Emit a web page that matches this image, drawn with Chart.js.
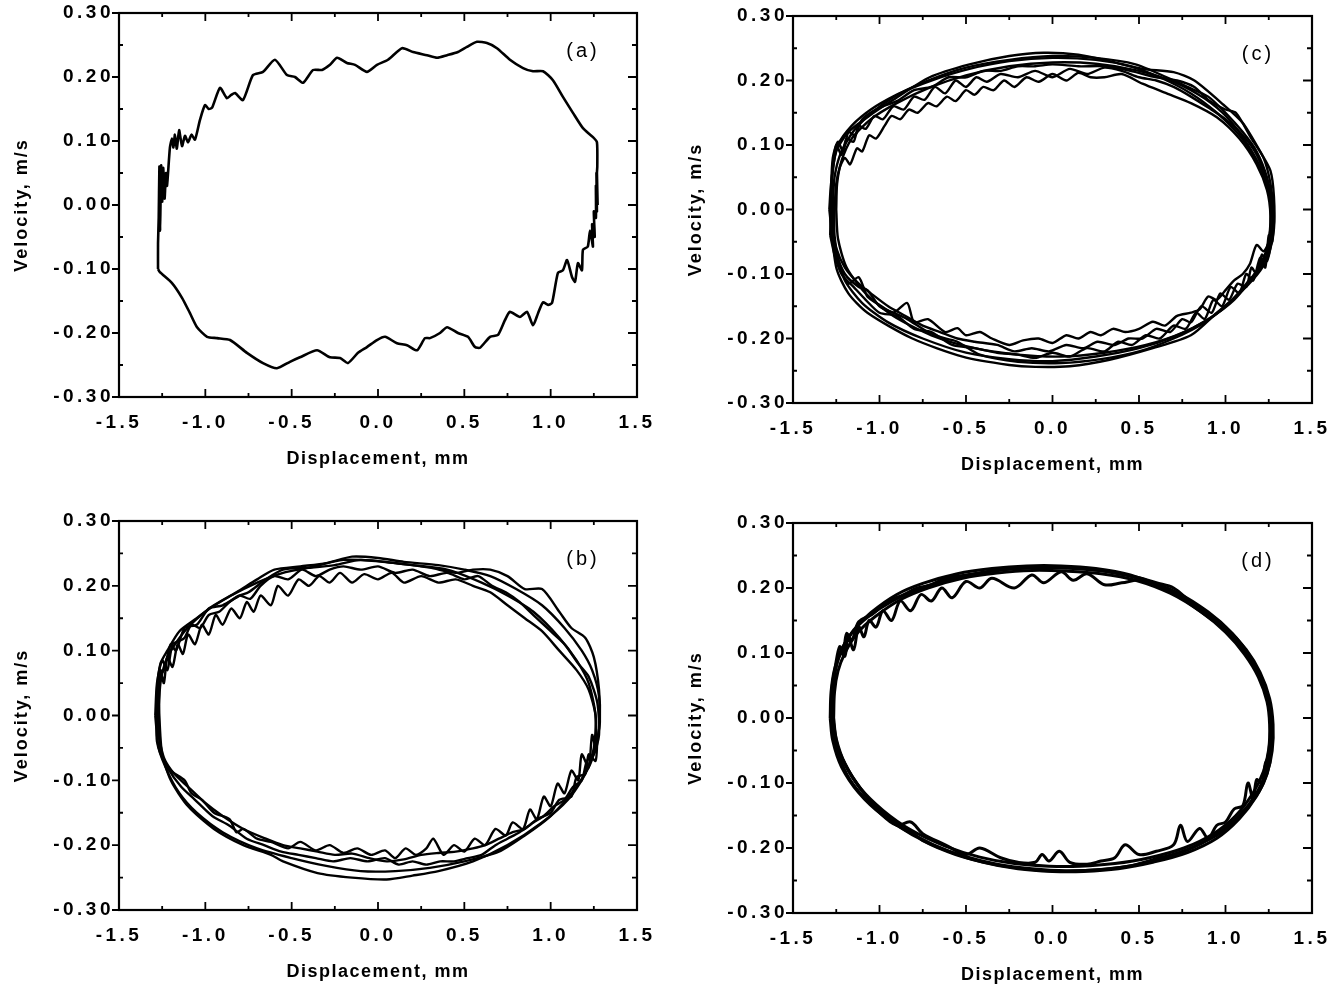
<!DOCTYPE html>
<html>
<head>
<meta charset="utf-8">
<script src="https://cdn.jsdelivr.net/npm/chart.js@4.4.1/dist/chart.umd.min.js"></script>
<style>
  body { margin: 0; background: #fff; }
  #wrap { position: relative; width: 1344px; height: 988px; overflow: hidden; background: #fff; }
  canvas { position: absolute; }
</style>
</head>
<body>
<div id="wrap">
  <canvas id="pa" width="672" height="494" style="left:0;top:0"></canvas>
  <canvas id="pc" width="672" height="494" style="left:672px;top:0"></canvas>
  <canvas id="pb" width="672" height="494" style="left:0;top:494px"></canvas>
  <canvas id="pd" width="672" height="494" style="left:672px;top:494px"></canvas>
</div>
<script>
// Axis ticks
const xTicks = [-1.5, -1.0, -0.5, 0.0, 0.5, 1.0, 1.5];
const yTicks = [-0.30, -0.20, -0.10, 0.00, 0.10, 0.20, 0.30];
const xMinor = [-1.25, -0.75, -0.25, 0.25, 0.75, 1.25];
const yMinor = [-0.25, -0.15, -0.05, 0.05, 0.15, 0.25];
const xTitle = 'Displacement, mm';
const yTitle = 'Velocity, m/s';

// (a) single cycle, [displacement, velocity]
const loopA = [
  [-1.274,-0.100],[-1.274,-0.060],[-1.270,-0.020],[-1.266,0.060],[-1.262,-0.040],[-1.256,0.062],[-1.250,0.005],
  [-1.244,0.058],[-1.236,0.010],[-1.228,0.050],[-1.222,0.030],[-1.205,0.090],[-1.193,0.104],[-1.185,0.090],
  [-1.176,0.110],[-1.165,0.088],[-1.152,0.117],[-1.135,0.092],[-1.118,0.108],[-1.100,0.098],[-1.080,0.110],
  [-1.060,0.102],[-1.031,0.133],[-1.002,0.156],[-0.980,0.150],[-0.961,0.152],[-0.915,0.183],[-0.875,0.167],
  [-0.850,0.172],[-0.828,0.175],[-0.782,0.164],[-0.724,0.203],[-0.666,0.208],[-0.597,0.227],[-0.527,0.203],
  [-0.481,0.200],[-0.434,0.191],[-0.376,0.211],[-0.324,0.211],[-0.278,0.219],[-0.237,0.230],[-0.180,0.222],
  [-0.133,0.219],[-0.064,0.208],[-0.006,0.219],[0.058,0.227],[0.139,0.245],[0.203,0.239],[0.284,0.234],
  [0.342,0.230],[0.400,0.234],[0.463,0.239],[0.515,0.247],[0.573,0.255],[0.631,0.253],[0.689,0.245],
  [0.764,0.227],[0.840,0.214],[0.898,0.209],[0.956,0.209],[1.013,0.195],[1.071,0.169],[1.129,0.144],
  [1.187,0.120],[1.245,0.106],[1.268,0.098],[1.270,0.060],[1.268,0.050],[1.272,0.000],[1.265,0.050],
  [1.268,-0.010],[1.262,0.030],[1.262,-0.020],[1.250,-0.010],[1.255,-0.050],[1.240,-0.030],[1.245,-0.065],
  [1.228,-0.040],[1.215,-0.065],[1.187,-0.070],[1.181,-0.102],[1.158,-0.091],[1.141,-0.120],[1.124,-0.113],
  [1.095,-0.086],[1.071,-0.102],[1.042,-0.106],[1.008,-0.153],[0.985,-0.156],[0.956,-0.152],[0.927,-0.169],
  [0.898,-0.188],[0.863,-0.167],[0.822,-0.175],[0.764,-0.167],[0.735,-0.180],[0.695,-0.203],[0.649,-0.206],
  [0.591,-0.223],[0.562,-0.222],[0.521,-0.206],[0.463,-0.200],[0.400,-0.191],[0.359,-0.200],[0.301,-0.208],
  [0.272,-0.208],[0.226,-0.227],[0.168,-0.219],[0.110,-0.216],[0.041,-0.206],[-0.006,-0.211],[-0.064,-0.222],
  [-0.116,-0.231],[-0.174,-0.247],[-0.220,-0.239],[-0.278,-0.238],[-0.353,-0.227],[-0.452,-0.238],[-0.510,-0.245],
  [-0.585,-0.255],[-0.666,-0.247],[-0.759,-0.231],[-0.857,-0.211],[-0.932,-0.208],[-0.990,-0.206],[-1.048,-0.191],
  [-1.089,-0.169],[-1.135,-0.145],[-1.193,-0.122],[-1.263,-0.105],[-1.274,-0.100]
];

// (b) several cycles
const loopB1 = [
  [-1.28,0.0],[-1.28,0.04],[-1.26,0.08],[-1.22,0.10],[-1.15,0.13],[-1.05,0.15],[-0.95,0.17],[-0.82,0.19],[-0.70,0.21],
  [-0.60,0.225],[-0.45,0.23],[-0.30,0.235],[-0.15,0.245],[0.0,0.243],[0.15,0.237],[0.35,0.232],[0.50,0.225],[0.65,0.215],
  [0.80,0.195],[0.95,0.17],[1.08,0.135],[1.18,0.10],[1.24,0.07],[1.28,0.03],[1.28,-0.02],[1.26,-0.05],[1.22,-0.08],
  [1.12,-0.12],[1.0,-0.155],[0.85,-0.185],[0.70,-0.21],[0.50,-0.225],[0.30,-0.235],[0.10,-0.24],[-0.10,-0.24],
  [-0.30,-0.232],[-0.50,-0.22],[-0.70,-0.205],[-0.90,-0.18],[-1.05,-0.15],[-1.15,-0.12],[-1.23,-0.08],[-1.28,-0.04],[-1.28,0.0]
];
const loopB2 = [
  [-1.27,0.0],[-1.26,0.05],[-1.22,0.09],[-1.12,0.13],[-1.0,0.16],[-0.85,0.185],[-0.70,0.205],[-0.55,0.22],[-0.40,0.228],
  [-0.20,0.24],[0.0,0.238],[0.20,0.232],[0.40,0.225],[0.60,0.205],[0.75,0.185],[0.90,0.16],[1.05,0.12],[1.15,0.085],
  [1.22,0.05],[1.26,0.0],[1.25,-0.05],[1.20,-0.09],[1.10,-0.13],[0.95,-0.165],[0.75,-0.2],[0.55,-0.225],[0.35,-0.24],
  [0.20,-0.247],[0.05,-0.253],[-0.15,-0.25],[-0.35,-0.243],[-0.55,-0.225],[-0.62,-0.215],[-0.78,-0.2],[-0.95,-0.175],
  [-1.10,-0.14],[-1.20,-0.10],[-1.26,-0.05],[-1.27,0.0]
];
const loopB3 = [
  [-1.28,-0.02],[-1.27,0.06],[-1.24,0.07],[-1.20,0.11],[-1.17,0.10],[-1.12,0.135],[-1.05,0.14],[-0.98,0.165],[-0.90,0.17],
  [-0.80,0.185],[-0.75,0.19],[-0.65,0.21],[-0.55,0.225],[-0.40,0.228],[-0.25,0.232],[-0.10,0.24],[0.10,0.235],[0.30,0.228],
  [0.45,0.22],[0.55,0.225],[0.65,0.225],[0.75,0.215],[0.85,0.195],[0.95,0.195],[1.05,0.16],[1.12,0.135],[1.20,0.12],
  [1.25,0.09],[1.28,0.04],[1.285,-0.01],[1.27,-0.04],[1.26,-0.07],[1.22,-0.06],[1.20,-0.09],[1.15,-0.095],[1.12,-0.125],
  [1.05,-0.13],[1.00,-0.15],[0.92,-0.16],[0.85,-0.175],[0.78,-0.18],[0.70,-0.19],[0.62,-0.2],[0.55,-0.205],[0.45,-0.21],
  [0.35,-0.212],[0.25,-0.215],[0.15,-0.222],[0.05,-0.225],[-0.05,-0.22],[-0.15,-0.213],[-0.25,-0.215],[-0.35,-0.21],
  [-0.45,-0.205],[-0.55,-0.2],[-0.65,-0.19],[-0.78,-0.175],[-0.90,-0.155],[-1.00,-0.135],[-1.10,-0.11],[-1.18,-0.09],
  [-1.24,-0.065],[-1.28,-0.02]
];
const loopB4 = [
  [-1.27,0.02],[-1.26,0.07],[-1.24,0.05],[-1.22,0.09],[-1.19,0.075],[-1.16,0.11],[-1.13,0.095],[-1.10,0.125],[-1.06,0.11],
  [-1.02,0.14],[-0.98,0.125],[-0.94,0.155],[-0.90,0.14],[-0.85,0.165],[-0.80,0.15],[-0.76,0.175],[-0.72,0.16],[-0.68,0.185],
  [-0.62,0.17],[-0.58,0.2],[-0.52,0.185],[-0.46,0.21],[-0.40,0.2],[-0.34,0.215],[-0.28,0.205],[-0.22,0.22],[-0.15,0.205],
  [-0.08,0.218],[0.0,0.21],[0.08,0.22],[0.15,0.205],[0.25,0.215],[0.35,0.205],[0.45,0.21],[0.55,0.2],[0.65,0.19],
  [0.75,0.17],[0.85,0.15],[0.95,0.13],[1.05,0.1],[1.15,0.07],[1.22,0.04],[1.26,0.0],[1.26,-0.05],[1.24,-0.03],[1.22,-0.08],
  [1.18,-0.06],[1.16,-0.1],[1.12,-0.085],[1.08,-0.12],[1.04,-0.105],[1.00,-0.14],[0.96,-0.125],[0.92,-0.16],[0.88,-0.145],
  [0.84,-0.175],[0.78,-0.165],[0.74,-0.185],[0.68,-0.175],[0.62,-0.2],[0.56,-0.19],[0.50,-0.21],[0.44,-0.2],[0.38,-0.215],
  [0.32,-0.19],[0.28,-0.205],[0.22,-0.215],[0.16,-0.205],[0.10,-0.22],[0.04,-0.208],[-0.04,-0.215],[-0.12,-0.205],
  [-0.20,-0.212],[-0.28,-0.2],[-0.36,-0.208],[-0.45,-0.195],[-0.52,-0.205],[-0.62,-0.195],[-0.70,-0.19],[-0.78,-0.175],
  [-0.82,-0.18],[-0.86,-0.16],[-0.95,-0.15],[-1.02,-0.13],[-1.08,-0.12],[-1.12,-0.1],[-1.20,-0.085],[-1.25,-0.06],[-1.27,0.02]
];
const loopB5 = [
  [-1.29,0.0],[-1.28,0.05],[-1.25,0.085],[-1.22,0.07],[-1.19,0.11],[-1.15,0.115],[-1.12,0.12],[-1.08,0.14],[-1.03,0.135],
  [-0.98,0.155],[-0.92,0.16],[-0.86,0.175],[-0.80,0.185],[-0.74,0.18],[-0.68,0.2],[-0.60,0.215],[-0.52,0.21],[-0.44,0.225],
  [-0.36,0.215],[-0.28,0.225],[-0.20,0.23],[-0.10,0.225],[0.0,0.23],[0.10,0.22],[0.20,0.225],[0.30,0.215],[0.40,0.22],
  [0.50,0.21],[0.58,0.215],[0.66,0.2],[0.74,0.19],[0.82,0.175],[0.90,0.155],[1.00,0.13],[1.08,0.11],[1.16,0.08],
  [1.22,0.06],[1.27,0.02],[1.28,-0.03],[1.25,-0.06],[1.21,-0.07],[1.18,-0.1],[1.13,-0.11],[1.08,-0.13],[1.02,-0.14],
  [0.96,-0.155],[0.90,-0.165],[0.82,-0.18],[0.75,-0.19],[0.68,-0.2],[0.60,-0.215],[0.52,-0.22],[0.44,-0.225],[0.36,-0.225],
  [0.28,-0.23],[0.20,-0.225],[0.12,-0.23],[0.04,-0.22],[-0.06,-0.225],[-0.16,-0.22],[-0.26,-0.225],[-0.36,-0.22],
  [-0.46,-0.215],[-0.56,-0.21],[-0.66,-0.2],[-0.76,-0.19],[-0.86,-0.17],[-0.96,-0.155],[-1.06,-0.13],[-1.14,-0.11],
  [-1.22,-0.08],[-1.27,-0.05],[-1.29,0.0]
];

// (c) several cycles
const loopC1 = [
  [-1.29,0.0],[-1.28,0.04],[-1.25,0.09],[-1.18,0.12],[-1.06,0.145],[-0.92,0.17],[-0.71,0.205],[-0.48,0.225],[-0.25,0.238],
  [-0.05,0.243],[0.15,0.24],[0.33,0.23],[0.52,0.218],[0.70,0.213],[0.82,0.2],[0.99,0.162],[1.10,0.134],[1.20,0.09],
  [1.26,0.06],[1.28,0.02],[1.28,-0.03],[1.25,-0.07],[1.20,-0.095],[1.10,-0.125],[0.95,-0.16],[0.80,-0.195],[0.58,-0.215],
  [0.33,-0.233],[0.10,-0.243],[-0.10,-0.244],[-0.25,-0.241],[-0.52,-0.228],[-0.81,-0.2],[-1.07,-0.16],[-1.18,-0.13],
  [-1.25,-0.09],[-1.29,0.0]
];
const loopC2 = [
  [-1.27,0.0],[-1.26,0.05],[-1.22,0.09],[-1.14,0.125],[-1.02,0.155],[-0.88,0.18],[-0.70,0.2],[-0.48,0.218],[-0.25,0.23],
  [0.0,0.235],[0.25,0.232],[0.45,0.222],[0.62,0.205],[0.80,0.18],[0.95,0.15],[1.08,0.115],[1.18,0.075],[1.24,0.04],
  [1.27,0.0],[1.27,-0.03],[1.24,-0.07],[1.17,-0.1],[1.05,-0.14],[0.90,-0.17],[0.72,-0.195],[0.50,-0.215],[0.25,-0.228],
  [0.0,-0.235],[-0.25,-0.232],[-0.50,-0.222],[-0.75,-0.2],[-0.95,-0.175],[-1.10,-0.145],[-1.20,-0.11],[-1.26,-0.06],[-1.27,0.0]
];
const loopC3 = [
  [-1.26,0.0],[-1.25,0.04],[-1.23,0.065],[-1.20,0.08],[-1.17,0.07],[-1.13,0.095],[-1.10,0.09],[-1.06,0.115],[-1.02,0.11],
  [-0.97,0.13],[-0.93,0.145],[-0.88,0.14],[-0.83,0.155],[-0.78,0.15],[-0.72,0.165],[-0.67,0.16],[-0.61,0.175],[-0.56,0.168],
  [-0.50,0.185],[-0.45,0.178],[-0.40,0.19],[-0.34,0.185],[-0.28,0.2],[-0.22,0.19],[-0.15,0.205],[-0.08,0.198],[0.0,0.21],
  [0.08,0.2],[0.15,0.212],[0.22,0.205],[0.30,0.205],[0.40,0.21],[0.52,0.195],[0.66,0.18],[0.80,0.165],[0.95,0.143],
  [1.08,0.11],[1.18,0.07],[1.24,0.03],[1.26,-0.01],[1.25,-0.05],[1.22,-0.065],[1.18,-0.055],[1.14,-0.085],[1.10,-0.1],
  [1.05,-0.11],[1.00,-0.125],[0.95,-0.14],[0.90,-0.135],[0.85,-0.155],[0.80,-0.16],[0.72,-0.165],[0.65,-0.18],[0.58,-0.174],
  [0.50,-0.185],[0.42,-0.19],[0.35,-0.185],[0.28,-0.195],[0.22,-0.19],[0.15,-0.2],[0.08,-0.195],[0.0,-0.207],[-0.08,-0.2],
  [-0.17,-0.203],[-0.25,-0.21],[-0.35,-0.2],[-0.42,-0.19],[-0.50,-0.195],[-0.55,-0.184],[-0.62,-0.19],[-0.72,-0.17],
  [-0.80,-0.175],[-0.84,-0.145],[-0.92,-0.16],[-1.00,-0.148],[-1.07,-0.135],[-1.12,-0.105],[-1.18,-0.115],[-1.23,-0.085],
  [-1.26,-0.04],[-1.26,0.0]
];
const loopC4 = [
  [-1.28,-0.02],[-1.275,0.05],[-1.25,0.1],[-1.22,0.085],[-1.19,0.11],[-1.15,0.105],[-1.12,0.13],[-1.08,0.125],[-1.03,0.145],
  [-0.98,0.14],[-0.92,0.16],[-0.86,0.155],[-0.80,0.175],[-0.74,0.17],[-0.68,0.19],[-0.62,0.18],[-0.56,0.2],[-0.50,0.19],
  [-0.44,0.205],[-0.38,0.198],[-0.30,0.21],[-0.20,0.205],[-0.10,0.215],[0.0,0.205],[0.10,0.218],[0.20,0.21],[0.30,0.22],
  [0.40,0.215],[0.50,0.205],[0.60,0.2],[0.70,0.19],[0.80,0.175],[0.90,0.158],[1.00,0.14],[1.10,0.115],[1.18,0.085],
  [1.23,0.05],[1.265,0.01],[1.27,-0.04],[1.24,-0.08],[1.21,-0.07],[1.18,-0.1],[1.15,-0.09],[1.12,-0.12],[1.07,-0.115],
  [1.02,-0.14],[0.97,-0.13],[0.92,-0.16],[0.86,-0.15],[0.80,-0.175],[0.75,-0.17],[0.68,-0.19],[0.60,-0.185],[0.52,-0.2],
  [0.44,-0.2],[0.36,-0.21],[0.26,-0.205],[0.18,-0.215],[0.08,-0.21],[-0.02,-0.22],[-0.12,-0.215],[-0.22,-0.22],[-0.32,-0.21],
  [-0.45,-0.205],[-0.55,-0.2],[-0.65,-0.19],[-0.75,-0.18],[-0.85,-0.165],[-0.95,-0.15],[-1.05,-0.13],[-1.12,-0.115],
  [-1.20,-0.09],[-1.25,-0.06],[-1.28,-0.02]
];
const loopC5 = [
  [-1.28,0.0],[-1.27,0.06],[-1.24,0.1],[-1.16,0.13],[-1.05,0.155],[-0.90,0.178],[-0.72,0.2],[-0.50,0.22],[-0.25,0.232],
  [0.0,0.238],[0.25,0.235],[0.48,0.225],[0.66,0.205],[0.78,0.19],[0.90,0.175],[1.00,0.15],[1.10,0.12],[1.18,0.09],
  [1.24,0.05],[1.27,0.01],[1.27,-0.04],[1.25,-0.065],[1.20,-0.09],[1.12,-0.115],[1.02,-0.145],[0.88,-0.175],[0.70,-0.2],
  [0.50,-0.22],[0.28,-0.232],[0.05,-0.238],[-0.20,-0.236],[-0.42,-0.225],[-0.55,-0.205],[-0.62,-0.2],[-0.72,-0.19],
  [-0.84,-0.17],[-0.92,-0.16],[-1.00,-0.15],[-1.07,-0.125],[-1.12,-0.12],[-1.20,-0.1],[-1.26,-0.06],[-1.28,0.0]
];
const loopC6 = [
  [-1.285,-0.04],[-1.28,0.03],[-1.27,0.08],[-1.24,0.105],[-1.21,0.09],[-1.18,0.12],[-1.14,0.115],[-1.10,0.14],[-1.0,0.158],
  [-0.9,0.168],[-0.8,0.185],[-0.7,0.19],[-0.6,0.205],[-0.5,0.205],[-0.4,0.215],[-0.3,0.215],[-0.2,0.222],[-0.1,0.222],
  [0.0,0.225],[0.15,0.222],[0.3,0.222],[0.45,0.215],[0.6,0.205],[0.72,0.2],[0.82,0.19],[0.9,0.17],[1.0,0.155],[1.06,0.15],
  [1.15,0.11],[1.22,0.08],[1.26,0.04],[1.28,-0.01],[1.27,-0.05],[1.25,-0.04],[1.23,-0.09],[1.2,-0.075],[1.16,-0.11],
  [1.12,-0.1],[1.08,-0.13],[1.03,-0.12],[0.98,-0.15],[0.93,-0.14],[0.88,-0.17],[0.83,-0.16],[0.77,-0.185],[0.7,-0.18],
  [0.62,-0.2],[0.54,-0.195],[0.46,-0.21],[0.38,-0.205],[0.3,-0.22],[0.2,-0.215],[0.1,-0.228],[0.0,-0.222],[-0.1,-0.23],
  [-0.2,-0.225],[-0.32,-0.222],[-0.45,-0.215],[-0.58,-0.21],[-0.7,-0.19],[-0.8,-0.185],[-0.9,-0.165],[-1.0,-0.16],
  [-1.08,-0.14],[-1.15,-0.12],[-1.22,-0.1],[-1.26,-0.07],[-1.285,-0.04]
];
const loopC7 = [
  [-1.25,0.0],[-1.245,0.04],[-1.22,0.075],[-1.16,0.11],[-1.05,0.14],[-0.9,0.165],[-0.7,0.19],[-0.5,0.208],[-0.25,0.222],
  [0.0,0.228],[0.25,0.226],[0.5,0.215],[0.7,0.198],[0.88,0.172],[1.02,0.14],[1.13,0.1],[1.21,0.06],[1.255,0.02],
  [1.26,-0.02],[1.24,-0.06],[1.18,-0.095],[1.08,-0.13],[0.94,-0.163],[0.76,-0.19],[0.54,-0.21],[0.3,-0.222],[0.05,-0.228],
  [-0.2,-0.225],[-0.45,-0.215],[-0.7,-0.195],[-0.92,-0.165],[-1.08,-0.13],[-1.19,-0.09],[-1.24,-0.045],[-1.25,0.0]
];

// (d) several cycles
const loopD1 = [
  [-1.285,0.0],[-1.28,0.04],[-1.26,0.075],[-1.22,0.105],[-1.15,0.135],[-1.05,0.162],[-0.90,0.19],[-0.75,0.207],[-0.55,0.222],
  [-0.35,0.23],[-0.15,0.234],[0.05,0.234],[0.25,0.23],[0.45,0.22],[0.65,0.2],[0.85,0.17],[1.00,0.14],[1.12,0.105],
  [1.20,0.07],[1.255,0.03],[1.275,-0.01],[1.27,-0.05],[1.24,-0.085],[1.18,-0.12],[1.08,-0.155],[0.95,-0.185],[0.78,-0.207],
  [0.58,-0.222],[0.38,-0.232],[0.18,-0.236],[0.0,-0.236],[-0.20,-0.232],[-0.40,-0.222],[-0.60,-0.205],[-0.80,-0.18],
  [-0.98,-0.15],[-1.12,-0.115],[-1.22,-0.075],[-1.27,-0.035],[-1.285,0.0]
];
const loopD2 = [
  [-1.265,0.0],[-1.26,0.04],[-1.24,0.072],[-1.20,0.1],[-1.13,0.13],[-1.03,0.155],[-0.88,0.182],[-0.72,0.2],[-0.52,0.215],
  [-0.32,0.223],[-0.12,0.227],[0.08,0.226],[0.28,0.222],[0.48,0.212],[0.68,0.192],[0.86,0.163],[1.00,0.132],[1.11,0.098],
  [1.19,0.063],[1.24,0.025],[1.255,-0.01],[1.25,-0.048],[1.22,-0.082],[1.16,-0.115],[1.06,-0.15],[0.93,-0.178],[0.76,-0.2],
  [0.56,-0.215],[0.36,-0.224],[0.16,-0.228],[-0.02,-0.228],[-0.22,-0.224],[-0.42,-0.214],[-0.62,-0.197],[-0.82,-0.172],
  [-0.98,-0.142],[-1.11,-0.108],[-1.20,-0.07],[-1.25,-0.032],[-1.265,0.0]
];
const loopD3 = [
  [-1.275,0.01],[-1.27,0.05],[-1.245,0.085],[-1.20,0.115],[-1.12,0.143],[-1.00,0.168],[-0.85,0.19],[-0.68,0.207],[-0.48,0.22],
  [-0.28,0.228],[-0.08,0.231],[0.12,0.23],[0.32,0.225],[0.52,0.213],[0.72,0.193],[0.90,0.163],[1.04,0.13],[1.15,0.092],
  [1.22,0.055],[1.26,0.015],[1.265,-0.025],[1.25,-0.065],[1.21,-0.1],[1.13,-0.135],[1.02,-0.165],[0.86,-0.193],[0.68,-0.212],
  [0.48,-0.226],[0.28,-0.233],[0.08,-0.235],[-0.12,-0.232],[-0.32,-0.225],[-0.52,-0.212],[-0.72,-0.192],[-0.90,-0.165],
  [-1.05,-0.133],[-1.17,-0.095],[-1.24,-0.055],[-1.27,-0.02],[-1.275,0.01]
];
const loopD4 = [
  [-1.27,0.0],[-1.265,0.05],[-1.25,0.08],[-1.22,0.1],[-1.20,0.095],[-1.18,0.125],[-1.15,0.105],[-1.12,0.14],[-1.09,0.125],
  [-1.06,0.15],[-1.02,0.14],[-0.98,0.165],[-0.93,0.15],[-0.88,0.18],[-0.82,0.165],[-0.76,0.19],[-0.70,0.18],[-0.64,0.2],
  [-0.58,0.185],[-0.50,0.21],[-0.42,0.2],[-0.35,0.215],[-0.22,0.2],[-0.12,0.22],[-0.05,0.208],[0.05,0.225],[0.12,0.212],
  [0.20,0.222],[0.30,0.205],[0.40,0.208],[0.52,0.212],[0.68,0.195],[0.85,0.165],[1.00,0.135],[1.12,0.1],[1.20,0.065],
  [1.25,0.025],[1.26,-0.02],[1.245,-0.06],[1.23,-0.07],[1.21,-0.1],[1.18,-0.095],[1.16,-0.125],[1.13,-0.1],[1.10,-0.135],
  [1.05,-0.14],[1.00,-0.16],[0.95,-0.165],[0.90,-0.185],[0.85,-0.17],[0.78,-0.19],[0.74,-0.165],[0.70,-0.195],[0.60,-0.205],
  [0.50,-0.21],[0.42,-0.195],[0.36,-0.215],[0.28,-0.22],[0.20,-0.225],[0.10,-0.222],[0.04,-0.205],[-0.02,-0.22],
  [-0.06,-0.21],[-0.10,-0.222],[-0.20,-0.222],[-0.30,-0.215],[-0.42,-0.2],[-0.50,-0.21],[-0.62,-0.195],[-0.75,-0.178],
  [-0.82,-0.16],[-0.90,-0.165],[-1.00,-0.145],[-1.10,-0.112],[-1.18,-0.08],[-1.24,-0.045],[-1.27,0.0]
];
const loopD5 = [
  [-1.28,0.0],[-1.275,0.045],[-1.255,0.08],[-1.23,0.11],[-1.21,0.1],[-1.19,0.13],[-1.16,0.12],[-1.12,0.148],[-1.04,0.16],
  [-0.96,0.178],[-0.86,0.19],[-0.78,0.2],[-0.70,0.205],[-0.62,0.215],[-0.50,0.22],[-0.30,0.228],[-0.10,0.232],[0.10,0.232],
  [0.30,0.226],[0.50,0.216],[0.60,0.208],[0.70,0.2],[0.80,0.178],[0.92,0.155],[1.04,0.125],[1.14,0.09],[1.21,0.055],
  [1.26,0.01],[1.265,-0.03],[1.255,-0.07],[1.22,-0.1],[1.15,-0.13],[1.08,-0.15],[0.98,-0.175],[0.88,-0.19],[0.76,-0.205],
  [0.62,-0.215],[0.44,-0.228],[0.24,-0.234],[0.04,-0.236],[-0.16,-0.232],[-0.36,-0.224],[-0.56,-0.21],[-0.74,-0.19],
  [-0.84,-0.17],[-0.94,-0.155],[-1.06,-0.125],[-1.16,-0.09],[-1.23,-0.055],[-1.27,-0.02],[-1.28,0.0]
];

const FONT = '"Liberation Sans", Arial, Helvetica, sans-serif';

function fmt(v, d) {
  if (Math.abs(v) < 1e-9) v = 0;
  return Number(v).toFixed(d);
}

// frame, inward ticks, titles and panel letter
const framePlugin = {
  id: 'frame',
  beforeDraw(chart) {
    chart.ctx.letterSpacing = '3.5px';
  },
  afterDraw(chart, args, opts) {
    const { ctx, chartArea: a, scales: { x, y } } = chart;
    ctx.save();
    ctx.strokeStyle = '#000';
    ctx.lineWidth = 2.2;
    ctx.strokeRect(a.left, a.top, a.right - a.left, a.bottom - a.top);

    ctx.lineWidth = 1.8;
    ctx.beginPath();
    xTicks.forEach(v => {
      const p = x.getPixelForValue(v);
      ctx.moveTo(p, a.bottom); ctx.lineTo(p, a.bottom - 8);
      ctx.moveTo(p, a.top); ctx.lineTo(p, a.top + 8);
    });
    xMinor.forEach(v => {
      const p = x.getPixelForValue(v);
      ctx.moveTo(p, a.bottom); ctx.lineTo(p, a.bottom - 4);
      ctx.moveTo(p, a.top); ctx.lineTo(p, a.top + 4);
    });
    yTicks.forEach(v => {
      const p = y.getPixelForValue(v);
      ctx.moveTo(a.left - 7, p); ctx.lineTo(a.left, p);
      ctx.moveTo(a.right, p); ctx.lineTo(a.right - 9, p);
    });
    yMinor.forEach(v => {
      const p = y.getPixelForValue(v);
      ctx.moveTo(a.left, p); ctx.lineTo(a.left + 4, p);
      ctx.moveTo(a.right, p); ctx.lineTo(a.right - 5, p);
    });
    ctx.stroke();

    ctx.fillStyle = '#000';
    ctx.textAlign = 'center';
    ctx.textBaseline = 'middle';
    ctx.font = 'bold 18px ' + FONT;
    ctx.letterSpacing = '1.5px';
    ctx.fillText(xTitle, (a.left + a.right) / 2, a.bottom + 62);
    ctx.save();
    ctx.translate(a.left - 97, (a.top + a.bottom) / 2);
    ctx.rotate(-Math.PI / 2);
    ctx.letterSpacing = '2px';
    ctx.fillText(yTitle, 0, 0);
    ctx.restore();

    ctx.font = '20px ' + FONT;
    ctx.letterSpacing = '3px';
    ctx.fillText(opts.label, a.right - 54, a.top + 38);
    ctx.restore();
  }
};

function makePanel(id, loops, label, area, tension, lw) {
  const canvas = document.getElementById(id);
  new Chart(canvas, {
    type: 'scatter',
    data: {
      datasets: loops.map(loop => ({
        data: loop.map(([dx, vy]) => ({ x: dx, y: vy })),
        showLine: true,
        borderColor: '#000',
        borderWidth: lw,
        pointRadius: 0,
        tension: tension,
        fill: false
      }))
    },
    options: {
      responsive: false,
      animation: false,
      events: [],
      layout: { padding: { top: area.top, right: 672 - area.right, left: 0, bottom: 0 } },
      plugins: { legend: { display: false }, tooltip: { enabled: false }, frame: { label: label } },
      scales: {
        x: {
          type: 'linear', min: -1.5, max: 1.5,
          afterBuildTicks: s => { s.ticks = xTicks.map(v => ({ value: v })); },
          afterFit: s => { s.height = 494 - area.bottom; },
          grid: { display: false },
          border: { display: false },
          ticks: { color: '#000', padding: 6, maxRotation: 0, font: { family: FONT, size: 19, weight: 'bold' },
                   callback: v => fmt(v, 1) }
        },
        y: {
          type: 'linear', min: -0.3, max: 0.3,
          afterBuildTicks: s => { s.ticks = yTicks.map(v => ({ value: v })); },
          afterFit: s => { s.width = area.left; },
          grid: { display: false },
          border: { display: false },
          ticks: { color: '#000', padding: -3, font: { family: FONT, size: 19, weight: 'bold' },
                   callback: v => fmt(v, 2) }
        }
      }
    },
    plugins: [framePlugin]
  });
}

makePanel('pa', [loopA], '(a)', { left: 119, top: 13, right: 637, bottom: 397 }, 0.2, 2.6);
makePanel('pc', [loopC1, loopC2, loopC3, loopC4, loopC5, loopC6, loopC7], '(c)', { left: 121, top: 16, right: 640, bottom: 403 }, 0.25, 2.4);
makePanel('pb', [loopB1, loopB2, loopB3, loopB4, loopB5], '(b)', { left: 119, top: 27, right: 637, bottom: 416 }, 0.25, 2.4);
makePanel('pd', [loopD1, loopD2, loopD3, loopD4, loopD5], '(d)', { left: 121, top: 29, right: 640, bottom: 419 }, 0.35, 3);
</script>
</body>
</html>
